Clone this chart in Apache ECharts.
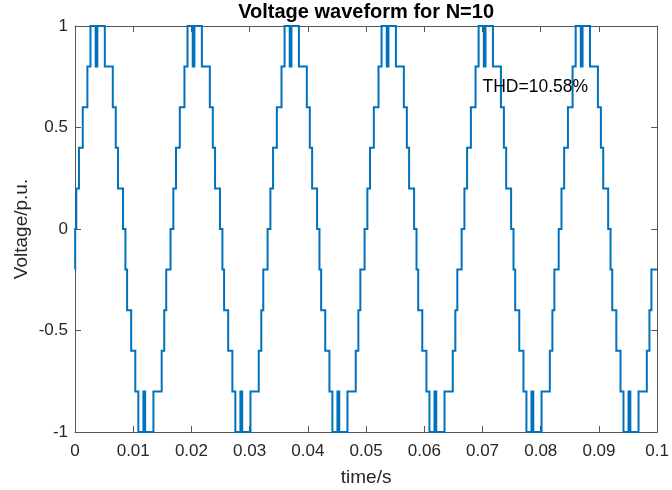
<!DOCTYPE html>
<html>
<head>
<meta charset="utf-8">
<script src="https://cdn.jsdelivr.net/npm/echarts@6/dist/echarts.min.js"></script>
<style>
  html, body { margin: 0; padding: 0; background: #fff; }
  #chart { width: 672px; height: 490px; }
</style>
</head>
<body>
<div id="chart"></div>
<script>
// levels reached at each switching edge, same order in every cycle
const stepLevels = [0, 0.2, 0.4, 0.6, 0.8, 1, 0.8, 1, 0.8, 0.6, 0.4, 0.2,
  0, -0.2, -0.4, -0.6, -0.8, -1, -0.8, -1, -0.8, -0.6, -0.4, -0.2]

// edge times in ms, one array per cycle
const cycle1 = [0.03, 0.22, 0.68, 1.33, 2.13, 2.66, 3.55, 3.84, 5.12, 6.49, 7.00, 7.39,
  8.25, 8.66, 8.95, 9.65, 10.36, 10.88, 11.75, 12.05, 13.47, 14.89, 15.33, 15.67]
const cycle2 = [16.41, 16.89, 17.35, 18.00, 18.80, 19.33, 20.22, 20.51, 21.79, 23.16, 23.67, 24.06,
  24.91, 25.32, 25.61, 26.31, 27.03, 27.54, 28.41, 28.72, 30.14, 31.56, 32.00, 32.34]
const cycle3 = [33.08, 33.56, 34.02, 34.67, 35.47, 36.00, 36.88, 37.18, 38.46, 39.82, 40.33, 40.73,
  41.58, 41.99, 42.28, 42.98, 43.70, 44.21, 45.08, 45.39, 46.80, 48.22, 48.67, 49.01]
const cycle4 = [49.74, 50.22, 50.68, 51.33, 52.13, 52.66, 53.55, 53.84, 55.12, 56.49, 57.00, 57.39,
  58.25, 58.66, 58.95, 59.65, 60.36, 60.88, 61.75, 62.05, 63.47, 64.89, 65.33, 65.67]
const cycle5 = [66.41, 66.89, 67.35, 68.00, 68.80, 69.33, 70.22, 70.51, 71.79, 73.16, 73.67, 74.06,
  74.91, 75.32, 75.61, 76.31, 77.03, 77.54, 78.41, 78.72, 80.14, 81.56, 82.00, 82.34]
const cycle6 = [83.08, 83.56, 84.02, 84.67, 85.47, 86.00, 86.88, 87.18, 88.46, 89.82, 90.33, 90.73,
  91.58, 91.99, 92.28, 92.98, 93.70, 94.21, 95.08, 95.39, 96.80, 98.22, 98.67, 99.01]

const startLevel = -0.2
const endTime = 100 // ms

const xTicks = [0, 0.01, 0.02, 0.03, 0.04, 0.05, 0.06, 0.07, 0.08, 0.09, 0.1]
const yTicks = [-1, -0.5, 0, 0.5, 1]

const titleText = 'Voltage waveform for N=10'
const xName = 'time/s'
const yName = 'Voltage/p.u.'
const thdText = 'THD=10.58%'
const thdPos = [0.07, 0.7]

const font = '"Liberation Sans", Arial, Helvetica, sans-serif'
const axisColor = '#555555'
const textColor = '#262626'

// expand the switching edges into the corners of a staircase (x in seconds)
const buildSteps = () => {
  const pts = [[0, startLevel]]
  let level = startLevel
  const cycles = [cycle1, cycle2, cycle3, cycle4, cycle5, cycle6]
  cycles.forEach((times) => {
    times.forEach((t, i) => {
      pts.push([t / 1000, level])
      level = stepLevels[i]
      pts.push([t / 1000, level])
    })
  })
  pts.push([endTime / 1000, level])
  return pts
}

const fmt = (v) => String(+v.toFixed(3))

const baseX = {
  type: 'value',
  min: xTicks[0],
  max: xTicks[xTicks.length - 1],
  interval: xTicks[1] - xTicks[0],
  axisLine: { show: true, onZero: false, lineStyle: { color: axisColor, width: 1 } },
  axisTick: { show: true, inside: true, length: 6, lineStyle: { color: axisColor } },
  splitLine: { show: false },
}

const baseY = {
  type: 'value',
  min: yTicks[0],
  max: yTicks[yTicks.length - 1],
  interval: yTicks[1] - yTicks[0],
  axisLine: { show: true, onZero: false, lineStyle: { color: axisColor, width: 1 } },
  axisTick: { show: true, inside: true, length: 6, lineStyle: { color: axisColor } },
  splitLine: { show: false },
}

const chart = echarts.init(document.getElementById('chart'), null, { renderer: 'canvas' })

chart.setOption({
  animation: false,
  backgroundColor: '#ffffff',
  grid: { left: 75, right: 11, top: 26, bottom: 58, containLabel: false },
  xAxis: [
    {
      ...baseX,
      position: 'bottom',
      axisLabel: { show: true, margin: 11, fontFamily: font, fontSize: 17, color: textColor, formatter: fmt },
    },
    {
      ...baseX,
      position: 'top',
      axisLabel: { show: false },
    },
  ],
  yAxis: [
    {
      ...baseY,
      position: 'left',
      axisLabel: { show: true, margin: 7, fontFamily: font, fontSize: 17, color: textColor, formatter: fmt },
    },
    {
      ...baseY,
      position: 'right',
      axisLabel: { show: false },
    },
  ],
  series: [
    {
      type: 'lines',
      coordinateSystem: 'cartesian2d',
      xAxisIndex: 0,
      yAxisIndex: 0,
      polyline: true,
      silent: true,
      lineStyle: { color: '#0072BD', width: 2, opacity: 1 },
      data: [{ coords: buildSteps() }],
      z: 1,
    },
  ],
})

// title and axis names placed around the plot box, THD note at a data position
const rect = chart.getModel().getComponent('grid', 0).coordinateSystem.getRect()
const cx = rect.x + rect.width / 2
const cy = rect.y + rect.height / 2
const p = chart.convertToPixel({ xAxisIndex: 0, yAxisIndex: 0 }, thdPos)

const label = (text, x, y, size, extra) => ({
  type: 'text',
  x,
  y,
  z: 10,
  style: {
    text,
    fontFamily: font,
    fontSize: size,
    fill: textColor,
    textAlign: 'center',
    textVerticalAlign: 'middle',
    ...extra,
  },
})

chart.setOption({
  graphic: [
    label(titleText, cx, 12, 20, { fontWeight: 'bold', fill: '#000' }),
    label(xName, cx, rect.y + rect.height + 46, 19),
    { ...label(yName, 22, cy, 19), rotation: Math.PI / 2 },
    label(thdText, p[0], p[1], 17.5, { textAlign: 'left', fill: '#000' }),
  ],
})
</script>
</body>
</html>
